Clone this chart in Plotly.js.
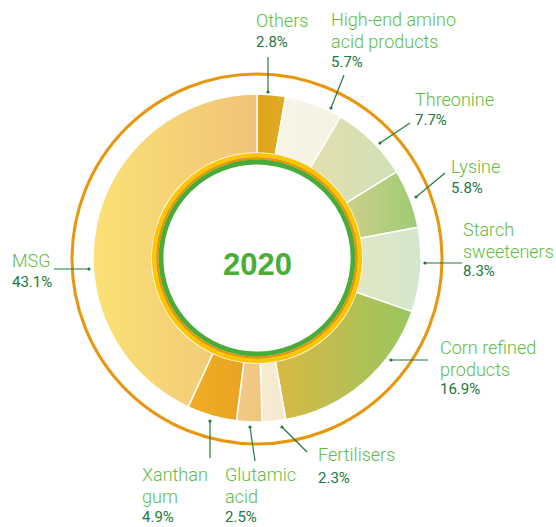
<!DOCTYPE html>
<html>
<head>
<meta charset="utf-8">
<script src="https://cdn.plot.ly/plotly-3.0.1.min.js"></script>
<style>html,body{margin:0;padding:0;background:#fff;}#chart{width:556px;height:527px;}</style>
</head>
<body>
<div id="chart"></div>
<script>
// ---- data ----
const categories = ["Others", "High-end amino acid products", "Threonine", "Lysine", "Starch sweeteners",
  "Corn refined products", "Fertilisers", "Glutamic acid", "Xanthan gum", "MSG"];
const labelLines = [["Others"], ["High-end amino", "acid products"], ["Threonine"], ["Lysine"], ["Starch", "sweeteners"],
  ["Corn refined", "products"], ["Fertilisers"], ["Glutamic", "acid"], ["Xanthan", "gum"], ["MSG"]];
const shares = [2.8, 5.7, 7.7, 5.8, 8.3, 16.9, 2.3, 2.5, 4.9, 43.1];
const centerTitle = "2020";

// ---- styles ----
const gradLeft  = ["#e4a21c", "#f8f5e6", "#e4dfae", "#cdd08a", "#e2e6c4", "#d9b843", "#f7ebd2", "#f1ca86", "#efae24", "#fbe174"];
const gradRight = ["#dcac25", "#f4f2e2", "#cfe0b6", "#9ccb73", "#d2e8cc", "#98c660", "#f6e9d0", "#efc67f", "#e9a322", "#f0c379"];
const solid     = ["#e0a720", "#f6f4e4", "#dadfb2", "#b5cd7e", "#dae7c8", "#bcc052", "#f7ead1", "#f0c882", "#eca923", "#f6d277"];

// label placement (layout, pixels): [x, nameTop, pctTop, lineX1, lineY1, dotX, dotY]
const place = [
  [255, 9, 32, 268, 57, 268, 92],
  [330, 8, 52, 344, 75, 331, 108],
  [414, 88, 110, 410, 123, 380, 143],
  [450, 155, 178, 445, 173, 416, 197],
  [462, 218, 261, 462, 263, 425, 263],
  [439, 336, 379, 428, 360, 391, 360],
  [317, 443, 468, 307, 452, 282, 427],
  [224, 463, 507, 255, 461, 250, 427],
  [141, 463, 507, 210, 458, 210, 421],
  [11, 249, 272, 54, 269, 89, 269]
];
const nameLineStep = 21.5;

const W = 556, H = 527;
const cx = 257, cy = 258, R = 164;
const px = x => x / W;
const py = y => 1 - y / H;

const nameColor = "#62bb46";
const pctColor = "#23773d";
const lineColor = "#23773d";

const annotations = [];
const shapes = [];

// outer ring
shapes.push({type: "circle", xref: "paper", yref: "paper", xsizemode: "pixel", ysizemode: "pixel",
  xanchor: px(cx), yanchor: py(259), x0: -185, x1: 185, y0: -185, y1: 185,
  line: {color: "#e8960e", width: 3}, layer: "below"});
// inner rings
[[103, 4.2, "#fbc600"], [99.6, 2.6, "#e69600"], [96.0, 4.8, "#4aac38"]].forEach(r => {
  shapes.push({type: "circle", xref: "paper", yref: "paper", xsizemode: "pixel", ysizemode: "pixel",
    xanchor: px(cx), yanchor: py(cy), x0: -r[0], x1: r[0], y0: -r[0], y1: r[0],
    line: {color: r[2], width: r[1]}});
});

categories.forEach((c, i) => {
  const p = place[i];
  labelLines[i].forEach((ln, k) => {
    annotations.push({xref: "paper", yref: "paper", x: px(p[0]), y: py(p[1] + k * nameLineStep),
      xanchor: "left", yanchor: "top", align: "left", showarrow: false, text: ln,
      font: {family: "Roboto", size: 18, weight: 300, color: nameColor}, borderpad: 0});
  });
  annotations.push({xref: "paper", yref: "paper", x: px(p[0]), y: py(p[2]), xanchor: "left", yanchor: "top",
    align: "left", showarrow: false, text: shares[i].toFixed(1) + "%",
    font: {family: "Roboto", size: 15, weight: 400, color: pctColor}, borderpad: 0});
  shapes.push({type: "line", xref: "paper", yref: "paper", x0: px(p[3]), y0: py(p[4]), x1: px(p[5]), y1: py(p[6]),
    line: {color: lineColor, width: 1.2}});
  shapes.push({type: "circle", xref: "paper", yref: "paper", xsizemode: "pixel", ysizemode: "pixel",
    xanchor: px(p[5]), yanchor: py(p[6]), x0: -1.6, x1: 1.6, y0: -1.6, y1: 1.6,
    fillcolor: lineColor, line: {width: 0}});
});

annotations.push({xref: "paper", yref: "paper", x: px(cx), y: py(264), xanchor: "center", yanchor: "middle",
  showarrow: false, text: "<b>" + centerTitle + "</b>",
  font: {family: "Liberation Sans", size: 31, color: "#49ad37"}});

const trace = {
  type: "pie",
  labels: categories,
  values: shares,
  sort: false,
  direction: "clockwise",
  rotation: 0,
  hole: 105 / 164,
  textinfo: "none",
  hoverinfo: "none",
  marker: {colors: solid, line: {color: "#ffffff", width: 1.5}},
  domain: {x: [(cx - R) / W, (cx + R) / W], y: [(H - cy - R) / H, (H - cy + R) / H]},
  showlegend: false
};

const layout = {
  width: W, height: H,
  margin: {l: 0, r: 0, t: 0, b: 0},
  paper_bgcolor: "#ffffff",
  plot_bgcolor: "#ffffff",
  showlegend: false,
  annotations: annotations,
  shapes: shapes
};

const gd = document.getElementById("chart");
Plotly.newPlot(gd, [trace], layout, {displayModeBar: false, staticPlot: true}).then(() => {
  const svg = gd.querySelector("svg.main-svg");
  const ns = "http://www.w3.org/2000/svg";
  const defs = document.createElementNS(ns, "defs");
  svg.insertBefore(defs, svg.firstChild);
  gd.querySelectorAll(".slice path.surface").forEach((path, i) => {
    const g = document.createElementNS(ns, "linearGradient");
    g.setAttribute("id", "sliceGrad" + i);
    g.setAttribute("x1", "0"); g.setAttribute("y1", "0");
    g.setAttribute("x2", "1"); g.setAttribute("y2", "0");
    [[0, gradLeft[i]], [1, gradRight[i]]].forEach(s => {
      const st = document.createElementNS(ns, "stop");
      st.setAttribute("offset", s[0]);
      st.setAttribute("stop-color", s[1]);
      g.appendChild(st);
    });
    defs.appendChild(g);
    path.style.fill = "url(#sliceGrad" + i + ")";
  });
});
</script>
</body>
</html>
